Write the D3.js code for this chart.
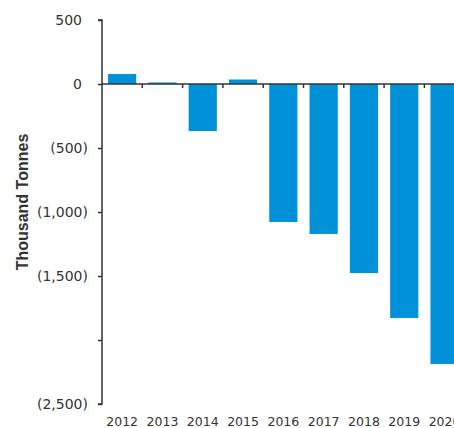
<!DOCTYPE html>
<html><head><meta charset="utf-8">
<script src="https://cdn.jsdelivr.net/npm/d3@7"></script>
<style>body{margin:0;background:#fff}svg{display:block}</style>
</head><body>
<svg id="c" width="454" height="428"></svg>
<script>
const years = ["2012","2013","2014","2015","2016","2017","2018","2019","2020"];
const values = [78, 12, -367, 35, -1078, -1172, -1477, -1828, -2187];
const yTicks = [500, 0, -500, -1000, -1500, -2000, -2500];
const yTickLabels = ["500","0","(500)","(1,000)","(1,500)","","(2,500)"];
const yTitle = "Thousand Tonnes";

const svg = d3.select("#c");
const axisX = 102, plotTop = 20, plotBottom = 404;
const bandW = 40.3;
const x = d3.scaleBand().domain(years).range([axisX, axisX + bandW*years.length]).paddingInner(0.3).paddingOuter(0.15);
const y = d3.scaleLinear().domain([500, -2500]).range([plotTop, plotBottom]);
const font = "DejaVu Sans, Verdana, sans-serif";

// bars
svg.append("g").selectAll("rect").data(values).join("rect")
  .attr("x", (d,i)=>x(years[i]))
  .attr("width", x.bandwidth())
  .attr("y", d=>y(Math.max(0,d)))
  .attr("height", d=>Math.abs(y(d)-y(0)))
  .attr("fill", "#0091d9");

// y axis
const ya = svg.append("g").attr("transform", `translate(${axisX},0)`)
  .call(d3.axisLeft(y).tickValues(yTicks).tickSize(4).tickFormat((d,i)=>yTickLabels[i]));
ya.select(".domain").attr("stroke","#333").attr("stroke-width",1.5).attr("d",`M-4,${plotTop}H0V${plotBottom}H-4`);
ya.selectAll(".tick line").attr("stroke","#333").attr("stroke-width",1.5);
ya.selectAll(".tick text").attr("font-family",font).attr("font-size",14).attr("fill","#333")
  .attr("x",(d)=> d>=0 ? -20 : -14);

// x axis at zero
const xa = svg.append("g").attr("transform",`translate(0,${y(0)})`);
xa.append("line").attr("x1",axisX).attr("x2",454).attr("stroke","#333").attr("stroke-width",1.5);
xa.selectAll("line.t").data(years).join("line").attr("class","t")
  .attr("x1",(d)=>x(d)+x.bandwidth()+x.step()*x.paddingInner()/2)
  .attr("x2",(d)=>x(d)+x.bandwidth()+x.step()*x.paddingInner()/2)
  .attr("y1",0).attr("y2",4).attr("stroke","#333").attr("stroke-width",1.5);

// x labels at bottom
svg.append("g").selectAll("text").data(years).join("text")
  .attr("x",d=>x(d)+x.bandwidth()/2).attr("y",426)
  .attr("text-anchor","middle").attr("font-family",font).attr("font-size",12.5).attr("fill","#333")
  .text(d=>d);

// y title
svg.append("text").attr("transform",`translate(28,202) rotate(-90)`)
  .attr("text-anchor","middle").attr("font-family","Liberation Sans, Arial, sans-serif").attr("font-size",16).attr("font-weight","bold").attr("fill","#333")
  .text(yTitle);
</script>
</body></html>
